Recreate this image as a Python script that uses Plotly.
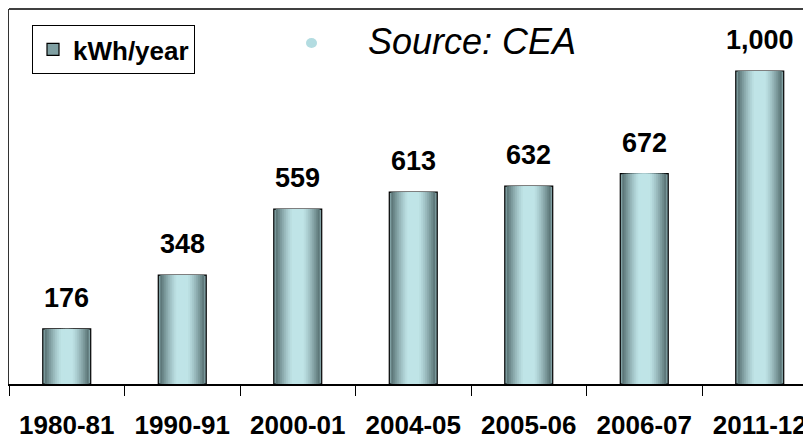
import plotly.graph_objects as go

categories = ["1980-81", "1990-91", "2000-01", "2004-05", "2005-06", "2006-07", "2011-12"]
values = [176, 348, 559, 613, 632, 672, 1000]
labels = ["176", "348", "559", "613", "632", "672", "1,000"]
series_name = "kWh/year"

FONT = "Liberation Sans, Arial, sans-serif"
BAR_W = 0.415
N = 12
dark = (78, 102, 104)
light = (191, 228, 231)

# page offset of the plot area (body margin 8px + plot margin 1px)
PX0, PY0 = 9, 9
PW, PH = 810, 375


def layer_color(d):
    t = max(0.0, min(1.0, (d - 0.25) / 0.75)) ** 1.3
    c = [round(light[k] + (dark[k] - light[k]) * t) for k in range(3)]
    return f"rgb({c[0]},{c[1]},{c[2]})"


def px(x):
    return (x - PX0) / PW


def py(y):
    return (PY0 + PH - y) / PH


fig = go.Figure()
for i in range(N):
    d = 1 - i / N
    fig.add_trace(go.Bar(
        x=categories, y=values, width=BAR_W * d,
        marker=dict(color=layer_color(d) if i else "rgb(128,160,163)",
                    line=dict(color="black", width=1.2 if i == 0 else 0)),
        name=series_name, showlegend=(i == 0), hoverinfo="skip" if i else None,
    ))

for c, v, t in zip(categories, values, labels):
    fig.add_annotation(x=c, y=v, text=t, showarrow=False, yanchor="middle", yshift=31,
                       font=dict(family=FONT, size=27, color="black", weight="bold"))

fig.add_annotation(xref="paper", yref="paper", x=px(472), y=py(41),
                   text="<i>Source: CEA</i>", showarrow=False, xanchor="center", yanchor="middle",
                   font=dict(family=FONT, size=36, color="black"))

fig.add_shape(type="circle", xref="paper", yref="paper",
              x0=px(306), x1=px(317), y0=py(48), y1=py(38),
              fillcolor="#b3dce1", line=dict(width=0))
fig.add_shape(type="line", xref="paper", yref="paper", x0=0, x1=1, y0=1, y1=1,
              line=dict(color="#404040", width=2))

fig.update_layout(
    width=811, height=441,
    margin=dict(l=1, r=0, t=1, b=65),
    paper_bgcolor="white", plot_bgcolor="white",
    barmode="overlay",
    showlegend=True,
    legend=dict(x=px(32), y=py(25), xanchor="left", yanchor="top",
                bordercolor="black", borderwidth=1, bgcolor="white",
                font=dict(family=FONT, size=26, color="black", weight="bold")),
    xaxis=dict(type="category", range=[-0.5, -0.5 + PW / 115.5],
               showline=True, linecolor="black", linewidth=1.5,
               ticks="outside", tickson="boundaries", ticklen=10, tickcolor="black", tickwidth=1,
               ticklabelstandoff=17,
               showgrid=False, zeroline=False,
               tickfont=dict(family=FONT, size=26, color="black", weight="bold")),
    yaxis=dict(range=[0, PH / 0.313], showline=True, linecolor="#333333", linewidth=1,
               showticklabels=False, ticks="", showgrid=False, zeroline=False),
)

fig.write_html("out.html")
